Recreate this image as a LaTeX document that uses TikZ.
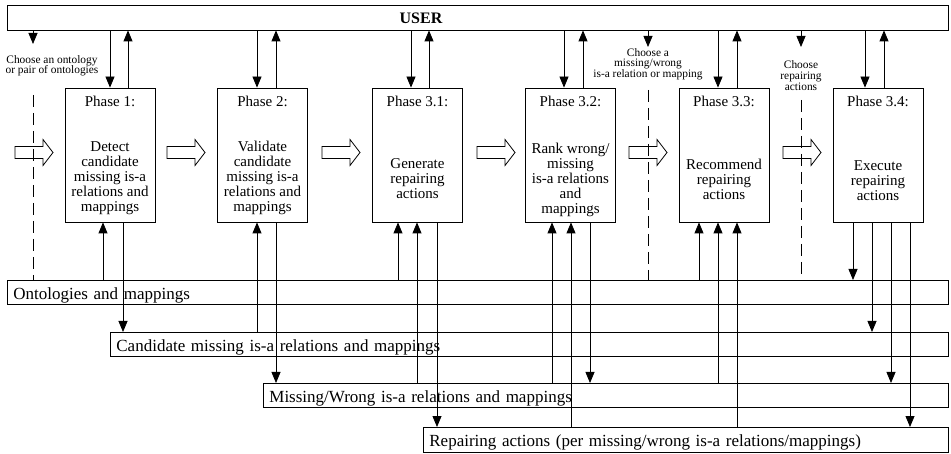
\documentclass[tikz,border=0pt]{standalone}
\usepackage{fontspec}
\setmainfont{Liberation Serif}
\usetikzlibrary{arrows.meta}

\tikzset{
  phase/.style={draw, minimum width=90pt, minimum height=134pt, inner sep=0pt},
  phasetitle/.style={font=\fontsize{15}{15}\selectfont, inner sep=0pt},
  phasetext/.style={font=\fontsize{15}{15}\selectfont, align=center, inner sep=0pt},
  store/.style={draw, anchor=north west, align=left, inner xsep=6pt, inner ysep=0pt,
    minimum height=24pt, text height=14pt, text depth=0pt, font=\fontsize{17}{17}\selectfont},
  choice/.style={font=\fontsize{11.4}{10.5}\selectfont, align=center, inner sep=0pt},
  flow/.style={-{Triangle[length=11pt,width=9pt]}},
  pick/.style={dash pattern=on 12pt off 6pt},
}

\begin{document}
\begin{tikzpicture}[x=1pt, y=-1pt, line width=0.8pt]

  \useasboundingbox (0,0) rectangle (951,454);

  % user bar
  \node[draw, minimum width=941pt, minimum height=25pt, inner sep=0pt] (user) at (477.5,17.5) {};
  \node[font=\bfseries\fontsize{16}{16}\selectfont, inner sep=0pt] (usertext) at ([xshift=-56.5pt,yshift=-1pt]user.center) {USER};

  \begin{scope}[every node/.style={phase}]
    \node (p1) at (110,155) {};
    \node (p2) at (262.5,155) {};
    \node (p3) at (417.5,155) {};
    \node (p4) at (570.5,155) {};
    \node (p5) at (724,155) {};
    \node (p6) at (878,155) {};
  \end{scope}

  \begin{scope}[every node/.style={phasetitle}]
    \node (t1) at ([yshift=-14pt]p1.north) {Phase 1:};
    \node (t2) at ([yshift=-14pt]p2.north) {Phase 2:};
    \node (t3) at ([yshift=-14pt]p3.north) {Phase 3.1:};
    \node (t4) at ([yshift=-14pt]p4.north) {Phase 3.2:};
    \node (t5) at ([yshift=-14pt]p5.north) {Phase 3.3:};
    \node (t6) at ([yshift=-14pt]p6.north) {Phase 3.4:};
  \end{scope}

  \begin{scope}[every node/.style={phasetext}]
    \node (b1) at ([yshift=-23pt]p1.center) {Detect\\candidate\\missing is-a\\relations and\\mappings};
    \node (b2) at ([yshift=-23pt]p2.center) {Validate\\candidate\\missing is-a\\relations and\\mappings};
    \node (b3) at ([yshift=-24pt]p3.center) {Generate\\repairing\\actions};
    \node (b4) at ([yshift=-25pt]p4.center) {Rank wrong/\\missing\\is-a relations\\and\\mappings};
    \node (b5) at ([yshift=-24pt]p5.center) {Recommend\\repairing\\actions};
    \node (b6) at ([yshift=-26pt]p6.center) {Execute\\repairing\\actions};
  \end{scope}

  % data stores
  \node[store, text width=929pt] (onto) at (7,280) {Ontologies and mappings};
  \node[store, text width=826pt] (cand) at (110,332) {Candidate missing is-a relations and mappings};
  \node[store, text width=673pt] (miss) at (263,383) {Missing/Wrong is-a relations and mappings};
  \node[store, text width=513pt, minimum height=25pt] (rep) at (423,427) {Repairing actions (per missing/wrong is-a relations/mappings)};

  % hollow process arrows
  \foreach \x in {15,167,322,477,629,783}
    \draw (\x,146.5) -- ++(28,0) -- ++(0,-7) -- ++(10,13) -- ++(-10,13) -- ++(0,-7) -- ++(-28,0) -- cycle;

  % user choices
  \node[choice] (c1) at (52,66) {Choose an ontology\\or pair of ontologies};
  \node[choice] (c2) at (648,64) {Choose a\\missing/wrong\\is-a relation or mapping};
  \node[choice, font=\fontsize{11.4}{11}\selectfont] (c3) at (801,76) {Choose\\repairing\\actions};

  \coordinate (a1) at (33,44);
  \coordinate (a2) at (648,47);
  \coordinate (a3) at (801,47);
  \coordinate (d1) at (33,95);
  \coordinate (d2) at (648,90);
  \coordinate (d3) at (801,100);
  \coordinate (e3) at (801,275);

  \draw[flow] (a1 |- user.south) -- (a1);
  \draw[flow] (a2 |- user.south) -- (a2);
  \draw[flow] (a3 |- user.south) -- (a3);
  \draw[pick] (d1) -- (d1 |- onto.north);
  \draw[pick] (d2) -- (d2 |- onto.north);
  \draw[pick] (d3) -- (e3);

  \begin{scope}[every edge/.style={draw,flow}]
    % user interaction
    \path (p1.north |- user.south) edge (p1.north);
    \path ([xshift=18pt]p1.north) edge ([xshift=18pt]p1.north |- user.south);
    \path ([xshift=-5.5pt]p2.north |- user.south) edge ([xshift=-5.5pt]p2.north);
    \path ([xshift=13.5pt]p2.north) edge ([xshift=13.5pt]p2.north |- user.south);
    \path ([xshift=-6.5pt]p3.north |- user.south) edge ([xshift=-6.5pt]p3.north);
    \path ([xshift=11.5pt]p3.north) edge ([xshift=11.5pt]p3.north |- user.south);
    \path ([xshift=-6.5pt]p4.north |- user.south) edge ([xshift=-6.5pt]p4.north);
    \path ([xshift=12.5pt]p4.north) edge ([xshift=12.5pt]p4.north |- user.south);
    \path ([xshift=-6pt]p5.north |- user.south) edge ([xshift=-6pt]p5.north);
    \path ([xshift=13pt]p5.north) edge ([xshift=13pt]p5.north |- user.south);
    \path ([xshift=-13pt]p6.north |- user.south) edge ([xshift=-13pt]p6.north);
    \path ([xshift=6pt]p6.north) edge ([xshift=6pt]p6.north |- user.south);

    % reading and writing the stores
    \path ([xshift=-7pt]p1.south |- onto.north) edge ([xshift=-7pt]p1.south);
    \path ([xshift=13pt]p1.south) edge ([xshift=13pt]p1.south |- cand.north);
    \path ([xshift=-5.5pt]p2.south |- cand.north) edge ([xshift=-5.5pt]p2.south);
    \path ([xshift=13.5pt]p2.south) edge ([xshift=13.5pt]p2.south |- miss.north);
    \path ([xshift=-19.5pt]p3.south |- onto.north) edge ([xshift=-19.5pt]p3.south);
    \path ([xshift=-0.5pt]p3.south |- miss.north) edge ([xshift=-0.5pt]p3.south);
    \path ([xshift=19.5pt]p3.south) edge ([xshift=19.5pt]p3.south |- rep.north);
    \path ([xshift=-18.5pt]p4.south |- miss.north) edge ([xshift=-18.5pt]p4.south);
    \path ([xshift=0.5pt]p4.south |- rep.north) edge ([xshift=0.5pt]p4.south);
    \path ([xshift=19.5pt]p4.south) edge ([xshift=19.5pt]p4.south |- miss.north);
    \path ([xshift=-25pt]p5.south |- onto.north) edge ([xshift=-25pt]p5.south);
    \path ([xshift=-6pt]p5.south |- miss.north) edge ([xshift=-6pt]p5.south);
    \path ([xshift=13pt]p5.south |- rep.north) edge ([xshift=13pt]p5.south);
    \path ([xshift=-25pt]p6.south) edge ([xshift=-25pt]p6.south |- onto.north);
    \path ([xshift=-6pt]p6.south) edge ([xshift=-6pt]p6.south |- cand.north);
    \path ([xshift=13pt]p6.south) edge ([xshift=13pt]p6.south |- miss.north);
    \path ([xshift=32pt]p6.south) edge ([xshift=32pt]p6.south |- rep.north);
  \end{scope}

\end{tikzpicture}
\end{document}
